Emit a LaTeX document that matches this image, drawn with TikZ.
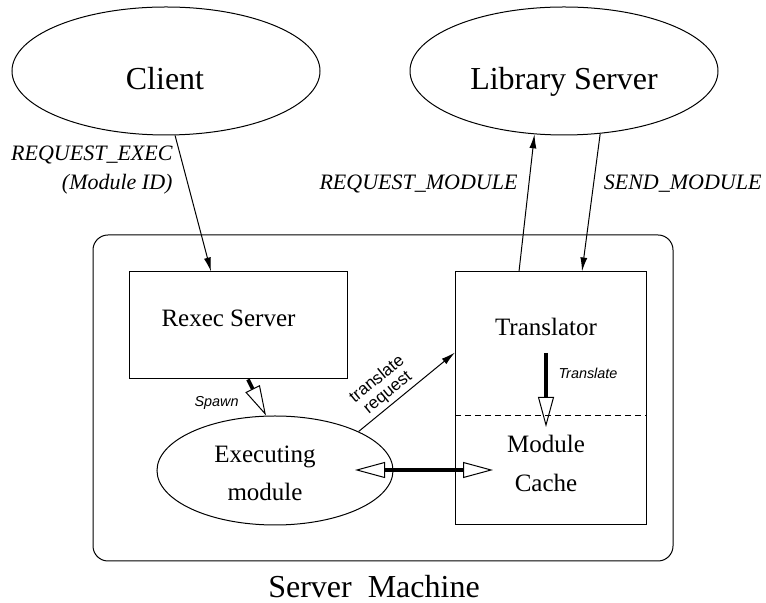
\documentclass[tikz,border=0pt]{standalone}
\usepackage{fontspec}
\setmainfont{Liberation Serif}
\setsansfont{Liberation Sans}
\usetikzlibrary{arrows.meta, shapes.geometric}

\tikzset{
  proc/.style={ellipse, draw, minimum width=154pt, minimum height=64pt},
  unit/.style={rectangle, draw},
  big/.style={font=\fontsize{16}{19}\selectfont},
  mid/.style={font=\fontsize{12.5}{19}\selectfont},
  msg/.style={inner sep=0pt, font=\fontsize{11}{14.5}\selectfont\itshape},
  note/.style={inner sep=0pt, font=\fontsize{7.2}{8.5}\selectfont\sffamily\itshape},
  call/.style={-{Latex[length=7pt,width=3.5pt]}},
  fat/.style={line width=1.8pt, -{Triangle[open, length=15pt, width=8pt, line width=0.5pt]}},
  fatboth/.style={line width=1.8pt, {Triangle[open, length=15pt, width=8pt, line width=0.5pt]}-{Triangle[open, length=15pt, width=8pt, line width=0.5pt]}}
}

\begin{document}
\begin{tikzpicture}[x=0.5pt, y=-0.5pt, line width=0.5pt]
\useasboundingbox (0,0) rectangle (766,603);

\node[proc] (client) at (166,71) {};
\node[proc] (libsrv) at (564,71) {};
\node[big, anchor=base] (clientname) at (165,90) {Client};
\node[big, anchor=base] (libname) at (564,90) {Library Server};

\node[draw, rounded corners=7.5pt, minimum width=290pt, minimum height=163pt] (machine) at (383,398) {};
\node[big, anchor=base] (machname) at (374,598) {Server\ \ Machine};

\node[unit, minimum width=109pt, minimum height=53.5pt] (rexec) at (238,325.5) {};
\node[mid, anchor=base] (rexecname) at (228.5,327) {Rexec Server};

\node[unit, minimum width=95.5pt, minimum height=126.5pt] (trans) at (551,398.5) {};
\draw[dash pattern=on 3pt off 2pt] (trans.west |- 0,416) -- (trans.east |- 0,416);
\node[mid, anchor=base] (transname) at (546,336) {Translator};
\node[mid, anchor=base] (cachename) at (546,453) {Module};
\node[mid, anchor=base] (cachename2) at (546,492) {Cache};

\node[ellipse, draw, minimum width=118pt, minimum height=54.5pt] (exec) at (275,470.5) {};
\node[mid, anchor=base] (execname) at (265,463) {Executing};
\node[mid, anchor=base] (execname2) at (265,501) {module};

% messages between the machines
\draw[call] (client.-82) -- ([xshift=-13.5pt]rexec.north);
\draw[call] ([xshift=-16pt]trans.north) -- (libsrv.-115);
\draw[call] (libsrv.-60) -- ([xshift=15.5pt]trans.north);
\node[msg, anchor=base east, align=right] (execmsg) at (173,190) {REQUEST\_EXEC\\(Module ID)};
\node[msg, anchor=base east] (reqmsg) at (518,190) {REQUEST\_MODULE};
\node[msg, anchor=base east] (sendmsg) at (762,190) {SEND\_MODULE};

\draw[fat] ([xshift=5pt]rexec.south) -- ([xshift=-4.5pt]exec.north);
\node[note, anchor=base west] (spawn) at (194,407) {Spawn};

\coordinate (tfrom) at (546,353);
\coordinate (tto) at (546,427);
\draw[fat] (tfrom) -- (tto);
\node[note, anchor=base west] (tnote) at (558,379) {Translate};

\coordinate (cleft) at (355,470);
\coordinate (cright) at (493,470);
\draw[fatboth] (cleft) -- (cright);

\draw[call] (exec.25) -- ([yshift=23pt]trans.west)
  node[pos=.38, above, sloped, inner sep=1.5pt, align=center, font=\fontsize{8.5}{8.5}\selectfont\sffamily] (treq) {translate\\request};
\end{tikzpicture}
\end{document}
